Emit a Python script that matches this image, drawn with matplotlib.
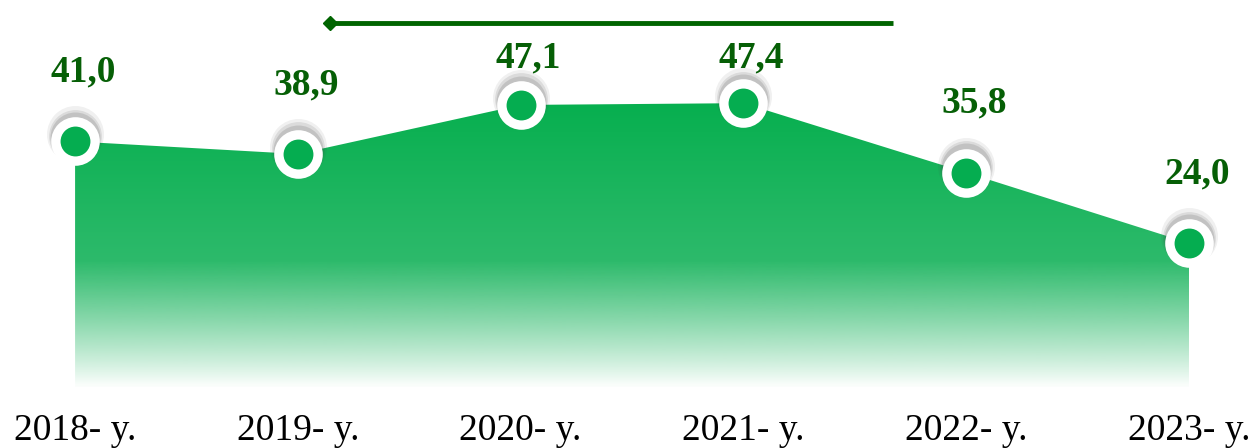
import matplotlib.pyplot as plt
import matplotlib.transforms as mtransforms
import numpy as np

plt.rcParams['font.family'] = ['Liberation Serif', 'DejaVu Serif']

# Data
years = ['2018- y.', '2019- y.', '2020- y.', '2021- y.', '2022- y.', '2023- y.']
values = [41.0, 38.9, 47.1, 47.4, 35.8, 24.0]
value_labels = ['41,0', '38,9', '47,1', '47,4', '35,8', '24,0']

fill_top = '#07AF4F'
fill_mid = '#2DBA6B'
point_color = '#05AD50'
label_color = '#065F06'

fig = plt.figure(figsize=(12.53, 4.48), dpi=100)
ax = fig.add_axes([0, 0, 1, 1])
x = np.arange(len(years))
ax.set_xlim(-0.337, 5.287)
ax.set_ylim(-10.27, 64.65)
ax.axis('off')

# Area with vertical gradient fading to white
poly = ax.fill_between(x, values, 0, facecolor='none', edgecolor='none')
n = 400
yy = np.linspace(0, max(values), n)
c0 = np.array([int(fill_top[i:i + 2], 16) / 255 for i in (1, 3, 5)])
c1 = np.array([int(fill_mid[i:i + 2], 16) / 255 for i in (1, 3, 5)])
img = np.zeros((n, 1, 4))
for k, v in enumerate(yy):
    t = np.clip((max(values) - v) / (max(values) - 21), 0, 1)
    col = c0 * (1 - t) + c1 * t
    a = np.clip(v / 21.0, 0.02, 1) ** 0.9
    img[k, 0, :3] = col
    img[k, 0, 3] = a
im = ax.imshow(img, extent=[x[0], x[-1], 0, max(values)], origin='lower',
               aspect='auto', interpolation='bilinear', zorder=1)
im.set_clip_path(poly.get_paths()[0], transform=ax.transData)

# Soft shadow above markers
for dy, alpha, ms in [(5, 0.08, 41), (4, 0.12, 38), (3, 0.16, 36)]:
    tr = mtransforms.offset_copy(ax.transData, fig=fig, x=0, y=dy, units='points')
    ax.plot(x, values, linestyle='none', marker='o', markersize=ms,
            markerfacecolor='#444444', markeredgecolor='none', alpha=alpha,
            transform=tr, zorder=2)

# Markers: white ring with green centre
ax.plot(x, values, linestyle='none', marker='o', markersize=35,
        markerfacecolor='white', markeredgecolor='none', zorder=3)
ax.plot(x, values, linestyle='none', marker='o', markersize=21.5,
        markerfacecolor=point_color, markeredgecolor='none', zorder=4)

# Value labels (kept below the top line)
for i, (v, lab) in enumerate(zip(values, value_labels)):
    ax.text(i + 0.036, min(v + 10.0, 53.4), lab, ha='center', va='baseline',
            fontsize=27, fontweight='bold', color=label_color, zorder=5)

# Category labels
for i, lab in enumerate(years):
    ax.text(i, -8.95, lab, ha='center', va='baseline', fontsize=27, color='black')

# Decorative line at the top
ax.plot([0.262, 0.713], [0.949, 0.949], color='#006400', linewidth=3.5,
        transform=ax.transAxes, solid_capstyle='butt')
ax.plot([0.263], [0.949], marker='D', markersize=7, color='#006400',
        transform=ax.transAxes)

fig.savefig('out.png', dpi=100, facecolor='white')
